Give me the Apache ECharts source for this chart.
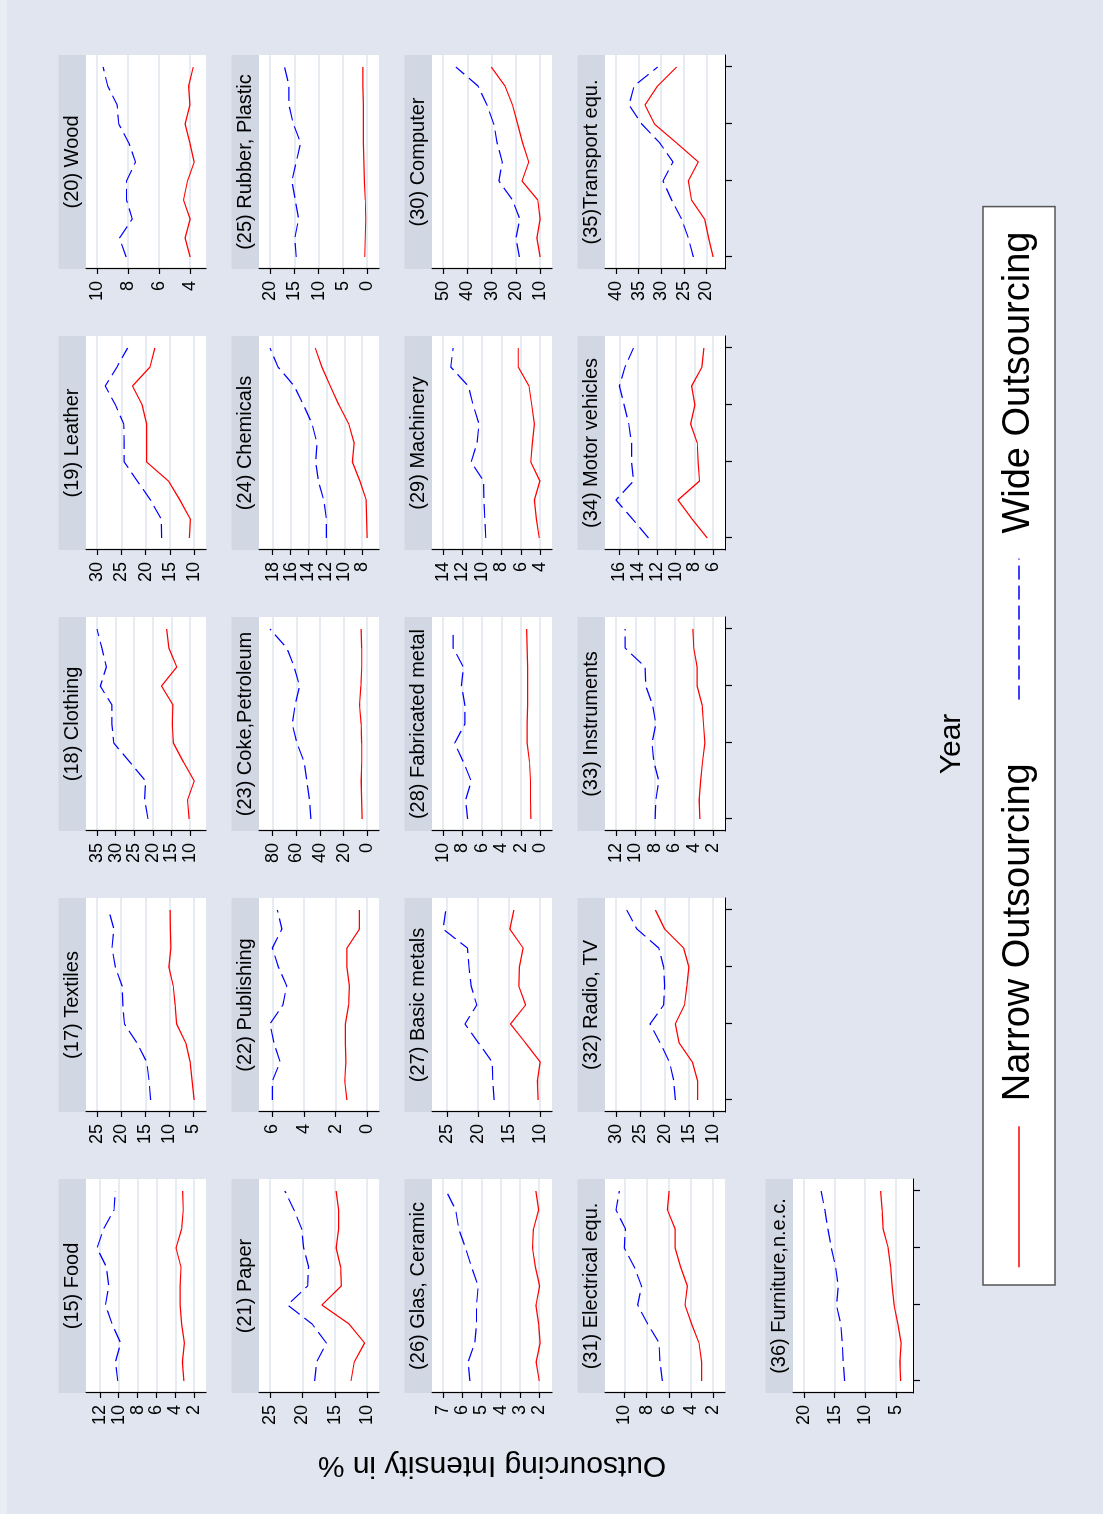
<!DOCTYPE html>
<html><head><meta charset="utf-8">
<script src="https://cdn.jsdelivr.net/npm/echarts@6/dist/echarts.min.js"></script>
<style>
html,body{margin:0;padding:0;width:1103px;height:1514px;overflow:hidden;background:#e0e5ef;}
#chart{position:absolute;left:0;top:0;width:1514px;height:1103px;transform-origin:0 0;transform:translateY(1514px) rotate(-90deg);}
</style></head><body><div id="chart"></div>
<script>
// ---------- data ----------
const years = [1995,1996,1997,1998,1999,2000,2001,2002,2003,2004,2005];
const yearTicks = [1995,1999,2002,2005];

const food_narrow = [3.09,3.26,3.05,3.33,3.5,3.5,3.4,3.93,3.33,3.16,3.23];
const food_wide   = [10.1,10.35,9.8,10.7,11.4,11.05,11.3,12.3,11.6,10.5,10.35];
const food_ticks  = [2,4,6,8,10,12];

const textiles_narrow = [4.86,5.3,5.7,6.6,8.5,8.8,9.2,10.1,9.7,9.8,9.86];
const textiles_wide   = [13.9,14.2,14.7,16.7,19.3,19.65,19.8,21.2,21.9,21.5,22.6];
const textiles_ticks  = [5,10,15,20,25];

const clothing_narrow = [10.27,10.7,8.9,11.8,14.5,14.8,14.6,17.7,13.6,15.7,16.3];
const clothing_wide   = [21.3,22.2,21.96,26.2,30.5,31.0,31.0,34.1,32.5,33.7,35.0];
const clothing_ticks  = [10,15,20,25,30,35];

const leather_narrow = [11.0,10.8,12.95,15.3,19.8,19.8,19.8,20.7,22.7,19.1,18.1];
const leather_wide   = [16.7,16.8,19.0,21.7,24.4,24.4,24.5,26.2,28.3,25.9,23.7];
const leather_ticks  = [10,15,20,25,30];

const wood_narrow = [4.0,4.32,4.0,4.43,4.17,3.74,4.02,4.32,4.02,4.1,3.8];
const wood_wide   = [8.12,8.55,7.73,8.1,8.1,7.52,7.95,8.6,8.7,9.31,9.61];
const wood_ticks  = [4,6,8,10];

const paper_narrow = [12.5,12.0,10.4,12.8,17.0,14.0,14.1,14.8,14.4,14.4,14.8];
const paper_wide   = [18.1,17.8,16.3,18.5,22.3,19.2,19.05,19.8,20.1,21.3,22.7];
const paper_ticks  = [10,15,20,25];

const publishing_narrow = [1.28,1.42,1.35,1.38,1.38,1.17,1.13,1.28,1.28,0.49,0.49];
const publishing_wide   = [6.0,6.0,5.51,5.9,6.15,5.34,5.09,5.62,6.0,5.4,5.68];
const publishing_ticks  = [0,2,4,6];

const coke_narrow = [4.3,4.8,5.2,4.6,4.8,5.2,6.5,5.4,4.6,4.8,5.2];
const coke_wide   = [47.7,48.8,51.1,53.3,59.6,63.5,61.0,57.3,61.8,68.1,82.3];
const coke_ticks  = [0,20,40,60,80];

const chemicals_narrow = [7.44,7.5,7.55,8.26,9.1,8.9,9.5,10.6,11.56,12.5,13.24];
const chemicals_wide   = [12.0,12.0,12.3,12.9,13.2,13.05,13.6,14.55,15.6,17.4,18.3];
const chemicals_ticks  = [8,10,12,14,16,18];

const rubber_narrow = [0.5,0.4,0.3,0.4,0.6,0.7,0.8,0.8,0.8,0.9,0.9];
const rubber_wide   = [14.6,14.9,14.1,14.8,15.5,14.6,13.7,15.2,16.1,16.1,17.0];
const rubber_ticks  = [0,5,10,15,20];

const glas_narrow = [2.0,2.16,1.95,2.03,2.17,1.98,2.2,2.35,2.3,2.03,2.17];
const glas_wide   = [5.6,5.7,5.35,5.26,5.26,5.17,5.52,5.83,6.18,6.34,6.83];
const glas_ticks  = [2,3,4,5,6,7];

const basic_narrow = [10.27,10.4,9.94,12.3,14.74,12.3,13.4,13.3,12.7,14.85,14.2];
const basic_wide   = [17.4,17.6,17.7,19.9,22.1,20.2,21.1,21.45,21.7,25.65,25.2];
const basic_ticks  = [10,15,20,25];

const fabricated_narrow = [0.95,1.0,1.0,1.1,1.35,1.35,1.3,1.3,1.3,1.35,1.4];
const fabricated_wide   = [7.47,7.67,7.1,7.9,8.8,7.75,7.75,8.1,7.9,8.96,8.96];
const fabricated_ticks  = [0,2,4,6,8,10];

const machinery_narrow = [4.1,4.4,4.6,4.03,4.97,4.8,4.6,4.87,5.15,6.26,6.26];
const machinery_wide   = [9.6,9.7,9.8,9.83,11.1,10.5,10.3,10.9,11.4,13.2,12.96];
const machinery_ticks  = [4,6,8,10,12,14];

const computer_narrow = [10.0,11.4,10.0,11.0,17.5,14.7,17.25,19.3,21.4,24.5,30.1];
const computer_wide   = [18.6,20.0,18.4,21.4,27.0,25.6,27.7,29.1,31.9,35.6,44.7];
const computer_ticks  = [10,20,30,40,50];

const electrical_narrow = [3.04,3.04,3.28,3.94,4.54,4.33,4.93,5.43,5.43,6.12,5.97];
const electrical_wide   = [6.57,6.8,6.87,7.9,8.8,8.45,9.1,10.0,9.9,10.75,10.45];
const electrical_ticks  = [2,4,6,8,10];

const radio_narrow = [13.2,13.2,14.3,17.0,17.8,15.9,15.4,15.0,16.1,20.0,21.9];
const radio_wide   = [17.8,18.1,19.0,20.9,23.0,20.2,20.0,20.2,21.2,25.7,27.8];
const radio_ticks  = [10,15,20,25,30];

const instruments_narrow = [3.38,3.45,3.3,3.1,2.86,3.0,3.14,3.66,3.66,4.0,4.1];
const instruments_wide   = [7.97,7.9,7.6,8.1,8.3,7.9,8.24,8.93,9.0,11.07,11.07];
const instruments_ticks  = [2,4,6,8,10,12];

const motor_narrow = [6.64,8.25,9.75,7.46,7.6,7.7,8.4,7.96,8.3,7.2,7.0];
const motor_wide   = [12.9,14.6,16.36,14.5,14.7,14.7,15.0,15.5,16.0,15.4,14.5];
const motor_ticks  = [6,8,10,12,14,16];

const transport_narrow = [18.5,19.5,20.4,23.3,24.0,21.8,26.6,31.5,33.6,30.8,26.6];
const transport_wide   = [22.9,24.0,25.5,27.7,29.6,27.4,30.3,34.3,37.1,36.0,30.8];
const transport_ticks  = [20,25,30,35,40];

const furniture_narrow = [4.24,4.35,4.13,4.67,5.3,5.6,5.87,6.25,7.07,7.23,7.5];
const furniture_wide   = [13.37,13.6,13.75,14.0,14.7,14.4,14.84,15.54,16.1,16.6,17.2];
const furniture_ticks  = [5,10,15,20];

const seriesNames = ['Narrow Outsourcing','Wide Outsourcing'];
const xTitle = 'Year';
const yTitle = 'Outsourcing Intensity in %';

// panels in reading order (rows of the original landscape graph)
const panelRows = [
  [['(15) Food',food_narrow,food_wide,food_ticks],
   ['(17) Textiles',textiles_narrow,textiles_wide,textiles_ticks],
   ['(18) Clothing',clothing_narrow,clothing_wide,clothing_ticks],
   ['(19) Leather',leather_narrow,leather_wide,leather_ticks],
   ['(20) Wood',wood_narrow,wood_wide,wood_ticks]],
  [['(21) Paper',paper_narrow,paper_wide,paper_ticks],
   ['(22) Publishing',publishing_narrow,publishing_wide,publishing_ticks],
   ['(23) Coke,Petroleum',coke_narrow,coke_wide,coke_ticks],
   ['(24) Chemicals',chemicals_narrow,chemicals_wide,chemicals_ticks],
   ['(25) Rubber, Plastic',rubber_narrow,rubber_wide,rubber_ticks]],
  [['(26) Glas, Ceramic',glas_narrow,glas_wide,glas_ticks],
   ['(27) Basic metals',basic_narrow,basic_wide,basic_ticks],
   ['(28) Fabricated metal',fabricated_narrow,fabricated_wide,fabricated_ticks],
   ['(29) Machinery',machinery_narrow,machinery_wide,machinery_ticks],
   ['(30) Computer',computer_narrow,computer_wide,computer_ticks]],
  [['(31) Electrical equ.',electrical_narrow,electrical_wide,electrical_ticks],
   ['(32) Radio, TV',radio_narrow,radio_wide,radio_ticks],
   ['(33) Instruments',instruments_narrow,instruments_wide,instruments_ticks],
   ['(34) Motor vehicles',motor_narrow,motor_wide,motor_ticks],
   ['(35)Transport equ.',transport_narrow,transport_wide,transport_ticks]],
  [['(36) Furniture,n.e.c.',furniture_narrow,furniture_wide,furniture_ticks]]
];

// ---------- layout / style ----------
const FONT = '"Liberation Sans", Arial, Helvetica, sans-serif';
const PW = 214, PH = 120, STRIP = 27.5;
const colLeft = c => 121 + 281 * c;
const rowTop = [86, 259, 432, 605, 793];
const PAD_HI = 11, PAD_LO = 11.8, YPAD = 12;
const BG = '#e0e5ef', OUTER = '#eaedf4', STRIPC = '#d1d8e3', GRIDC = '#dfe5ee';

const grids = [], xAxes = [], yAxes = [], series = [], graphics = [];
graphics.push({type: 'rect', shape: {x: 0, y: 0, width: 1514, height: 7}, style: {fill: OUTER}, silent: true, z: -10});
let idx = 0;
panelRows.forEach((row, r) => {
  row.forEach((p, c) => {
    const [name, narrow, wide, ticks] = p;
    const left = colLeft(c), top = rowTop[r];
    const bottomAxis = (r === 3 && c > 0) || r === 4;
    grids.push({left, top, width: PW, height: PH, show: true, backgroundColor: '#ffffff', borderWidth: 0});
    const ystep = (years[years.length-1] - years[0]) / (PW - 2*YPAD);
    xAxes.push({
      gridIndex: idx, type: 'value',
      min: years[0] - YPAD*ystep, max: years[years.length-1] + YPAD*ystep,
      axisLine: {show: bottomAxis, onZero: false, lineStyle: {color: '#000', width: 1.2}},
      axisTick: {show: bottomAxis, customValues: yearTicks, length: 7, lineStyle: {color: '#000', width: 1.2}},
      axisLabel: {show: false}, splitLine: {show: false}
    });
    const all = narrow.concat(wide);
    const lo = Math.min(ticks[0], ...all), hi = Math.max(ticks[ticks.length-1], ...all);
    const upp = (hi - lo) / (PH - PAD_HI - PAD_LO);
    yAxes.push({
      gridIndex: idx, type: 'value', min: lo - PAD_LO*upp, max: hi + PAD_HI*upp,
      axisLine: {show: true, onZero: false, lineStyle: {color: '#000', width: 1.2}},
      axisTick: {show: true, customValues: ticks, length: 5, lineStyle: {color: '#000', width: 1.2}},
      axisLabel: {show: true, customValues: ticks, fontSize: 18, color: '#000', fontFamily: FONT, margin: 12},
      splitLine: {show: true, lineStyle: {color: GRIDC, width: 1.5}}
    });
    series.push({
      type: 'line', name: seriesNames[0], xAxisIndex: idx, yAxisIndex: idx,
      data: years.map((y, k) => [y, narrow[k]]), symbol: 'none', showSymbol: false,
      lineStyle: {color: '#ff0000', width: 1.2}, itemStyle: {color: '#ff0000'}, silent: true
    });
    series.push({
      type: 'line', name: seriesNames[1], xAxisIndex: idx, yAxisIndex: idx,
      data: years.map((y, k) => [y, wide[k]]), symbol: 'none', showSymbol: false,
      lineStyle: {color: '#0000ff', width: 1.2, type: [14, 6]}, itemStyle: {color: '#0000ff'}, silent: true
    });
    graphics.push({type: 'rect', shape: {x: left, y: top - STRIP, width: PW, height: STRIP}, style: {fill: STRIPC}, silent: true});
    graphics.push({type: 'text', x: left + PW/2, y: top - STRIP/2, silent: true,
      style: {text: name, fill: '#000', fontSize: 20, fontFamily: FONT, align: 'center', verticalAlign: 'middle'}});
    idx++;
  });
});

graphics.push({type: 'text', x: 770, y: 952, silent: true,
  style: {text: xTitle, fill: '#000', fontSize: 30, fontFamily: FONT, align: 'center', verticalAlign: 'middle'}});
graphics.push({type: 'text', x: 49, y: 492, rotation: Math.PI/2, silent: true,
  style: {text: yTitle, fill: '#000', fontSize: 30, fontFamily: FONT, align: 'center', verticalAlign: 'middle'}});

const option = {
  animation: false,
  backgroundColor: BG,
  grid: grids, xAxis: xAxes, yAxis: yAxes, series,
  legend: {
    data: seriesNames, left: 229, top: 983, orient: 'horizontal',
    itemWidth: 141, itemHeight: 14, itemGap: 63,
    padding: [17, 25, 17, 17], backgroundColor: '#fff', borderColor: '#555', borderWidth: 1.5, borderRadius: 0,
    itemStyle: {opacity: 0, borderWidth: 0},
    lineStyle: {width: 1.5},
    textStyle: {fontSize: 38, fontFamily: FONT, color: '#000', padding: [0, 0, 0, 20]},
    selectedMode: false
  },
  graphic: graphics
};
const chart = echarts.init(document.getElementById('chart'), null, {renderer: 'canvas'});
chart.setOption(option);
</script></body></html>
